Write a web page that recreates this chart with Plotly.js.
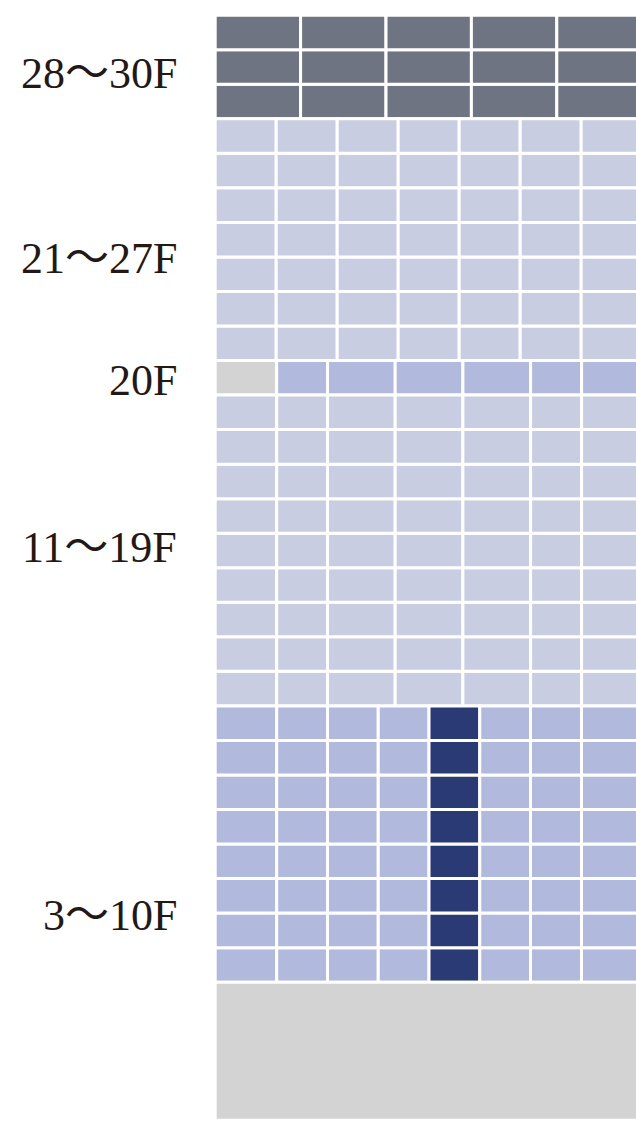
<!DOCTYPE html>
<html>
<head>
<meta charset="utf-8">
<script src="https://cdn.plot.ly/plotly-3.0.1.min.js"></script>
<style>html,body{margin:0;padding:0;background:#fff;}#chart{width:636px;height:1121px;}</style>
</head>
<body>
<div id="chart"></div>
<script>
// ---- data ----
const zoneLabels = ["28～30F", "21～27F", "20F", "11～19F", "3～10F"];
const labelFloors = [28.82, 23.46, 19.93, 15.1, 4.42];

const topFloors = [28, 29, 30];
const upperFloors = [21, 22, 23, 24, 25, 26, 27];
const floor20 = [20];
const middleFloors = [11, 12, 13, 14, 15, 16, 17, 18, 19];
const lowerFloors = [3, 4, 5, 6, 7, 8, 9, 10];

const topWidths = [85.4, 85.4, 85.4, 85.4, 85.4];
const upperWidths = [61, 61, 61, 61, 61, 61, 61];
const middleWidths = [61.5, 50.8, 67.7, 67.7, 67.7, 51, 61];
const lowerWidths = [61.5, 50.8, 50.75, 50.75, 50.75, 50.75, 51, 61];

const floor20GrayCell = 0;
const lowerDarkCell = 4;
const baseFloor = 0.5;
const baseSpan = 4;
const buildingWidth = 427;

// ---- styles ----
const C_TOP = "#6e7482";
const C_LIGHT = "#c8cde1";
const C_MED = "#b1badd";
const C_DARK = "#2a3a75";
const C_GRAY = "#d3d3d3";

function rowCells(floors, widths, colorFn) {
  const x = [], y = [], b = [], c = [];
  floors.forEach(f => {
    let start = 0;
    widths.forEach((w, i) => {
      x.push(w); y.push(f); b.push(start); c.push(colorFn(f, i));
      start += w;
    });
  });
  return {x, y, b, c};
}

const groups = [
  rowCells(topFloors, topWidths, () => C_TOP),
  rowCells(upperFloors, upperWidths, () => C_LIGHT),
  rowCells(floor20, middleWidths, (f, i) => i === floor20GrayCell ? C_GRAY : C_MED),
  rowCells(middleFloors, middleWidths, () => C_LIGHT),
  rowCells(lowerFloors, lowerWidths, (f, i) => i === lowerDarkCell ? C_DARK : C_MED),
  {x: [buildingWidth], y: [baseFloor], b: [0], c: [C_GRAY], w: baseSpan}
];

const traces = groups.map(g => ({
  type: "bar",
  orientation: "h",
  x: g.x, y: g.y, base: g.b,
  width: g.w || 1,
  marker: {color: g.c, line: {color: "#ffffff", width: 3}},
  hoverinfo: "skip",
  showlegend: false
}));

const annotations = zoneLabels.map((t, i) => ({
  text: t,
  x: -36, y: labelFloors[i],
  xref: "x", yref: "y",
  xanchor: "right", yanchor: "middle",
  showarrow: false,
  font: {family: "Liberation Serif, 'Noto Sans CJK JP', serif", size: 44, color: "#231815"}
}));

const layout = {
  width: 636, height: 1121,
  margin: {l: 0, r: 0, t: 0, b: 0},
  paper_bgcolor: "#ffffff", plot_bgcolor: "#ffffff",
  barmode: "overlay",
  xaxis: {range: [-215.2, 420.8], visible: false, fixedrange: true},
  yaxis: {range: [-1.52, 30.94], visible: false, fixedrange: true},
  annotations: annotations
};

Plotly.newPlot("chart", traces, layout, {displayModeBar: false, staticPlot: true});
</script>
</body>
</html>
